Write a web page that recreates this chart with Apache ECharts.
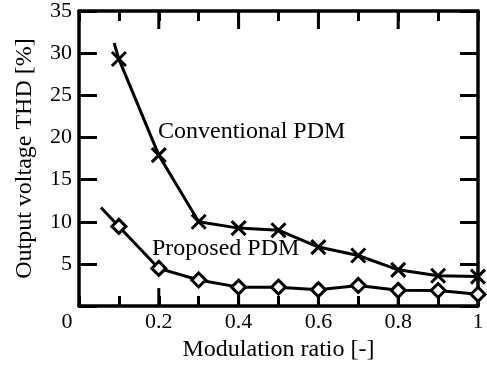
<!DOCTYPE html>
<html>
<head>
<meta charset="utf-8">
<script src="https://cdn.jsdelivr.net/npm/echarts@6/dist/echarts.min.js"></script>
<style>
html,body{margin:0;padding:0;background:#fff;}
#c{width:487px;height:367px;}
</style>
</head>
<body>
<div id="c"></div>
<script>
// Data
const xValues = [0.1, 0.2, 0.3, 0.4, 0.5, 0.6, 0.7, 0.8, 0.9, 1.0];
const conventional = [29.3, 17.9, 10.0, 9.25, 9.0, 7.0, 6.0, 4.3, 3.6, 3.5];
const proposed = [9.45, 4.47, 3.1, 2.25, 2.25, 1.95, 2.45, 1.87, 1.85, 1.4];
const conventionalStart = [0.088, 31.2];
const proposedStart = [0.055, 11.7];
const majorXTicks = [0.2, 0.4, 0.6, 0.8];
const xAxisTitle = 'Modulation ratio [-]';
const yAxisTitle = 'Output voltage THD [%]';
const labelConventional = 'Conventional PDM';
const labelProposed = 'Proposed PDM';

const FONT = "'Liberation Serif', 'Times New Roman', serif";
const Y_MIN = 0, Y_MAX = 35;

function buildSeries(start, vals) {
  const d = [{ value: start, symbol: 'none' }];
  xValues.forEach((x, i) => d.push([x, vals[i]]));
  return d;
}

const chart = echarts.init(document.getElementById('c'), null, { renderer: 'canvas' });

const lineStyleAxis = { color: '#000', width: 3.5 };
const tickStyle = { color: '#000', width: 3 };

chart.setOption({
  animation: false,
  backgroundColor: '#fff',
  grid: { left: 79, right: 9, top: 11, bottom: 56, containLabel: false },
  xAxis: [
    {
      type: 'value', position: 'bottom', min: 0, max: 1, interval: 0.1,
      axisLine: { show: true, onZero: false, lineStyle: lineStyleAxis },
      axisTick: { show: true, inside: true, length: 10, lineStyle: tickStyle },
      splitLine: { show: false },
      axisLabel: {
        margin: 5, color: '#000', fontFamily: FONT, fontSize: 22, showMinLabel: true, showMaxLabel: true,
        formatter: function (v) {
          const k = Math.round(v * 10);
          if (k === 0) return '{z|0}';
          if (k % 2 === 1) return '';
          return String(k / 10);
        },
        rich: { z: { fontFamily: FONT, fontSize: 22, color: '#000', padding: [0, 24, 0, 0] } }
      },
      name: xAxisTitle, nameLocation: 'middle', nameGap: 27,
      nameTextStyle: { color: '#000', fontFamily: FONT, fontSize: 24 }
    },
    {
      type: 'value', position: 'top', min: 0, max: 1, interval: 0.1,
      axisLine: { show: true, onZero: false, lineStyle: lineStyleAxis },
      axisTick: { show: true, inside: true, length: 10, lineStyle: tickStyle },
      splitLine: { show: false },
      axisLabel: { show: false }
    }
  ],
  yAxis: [
    {
      type: 'value', position: 'left', min: Y_MIN, max: Y_MAX, interval: 5,
      axisLine: { show: true, onZero: false, lineStyle: lineStyleAxis },
      axisTick: { show: true, inside: true, length: 18, lineStyle: tickStyle },
      splitLine: { show: false },
      axisLabel: {
        margin: 7, color: '#000', fontFamily: FONT, fontSize: 22,
        formatter: function (v) { return v === 0 ? '' : String(v); }
      },
      name: yAxisTitle, nameLocation: 'middle', nameGap: 42, nameRotate: 90,
      nameTextStyle: { color: '#000', fontFamily: FONT, fontSize: 24 }
    },
    {
      type: 'value', position: 'right', min: Y_MIN, max: Y_MAX, interval: 5,
      axisLine: { show: true, onZero: false, lineStyle: lineStyleAxis },
      axisTick: { show: true, inside: true, length: 18, lineStyle: tickStyle },
      splitLine: { show: false },
      axisLabel: { show: false }
    }
  ],
  series: [
    {
      // long ticks at the labelled x positions, placed via the axis scale
      type: 'custom', xAxisIndex: 0, yAxisIndex: 0, silent: true, clip: false, z: 1,
      data: majorXTicks.map(function (x) { return [x, Y_MIN]; }),
      renderItem: function (params, api) {
        const x = api.value(0);
        const pb = api.coord([x, Y_MIN]);
        const pt = api.coord([x, Y_MAX]);
        const st = { stroke: '#000', lineWidth: 3 };
        return {
          type: 'group',
          children: [
            { type: 'line', shape: { x1: pb[0], y1: pb[1], x2: pb[0], y2: pb[1] - 18 }, style: st },
            { type: 'line', shape: { x1: pt[0], y1: pt[1], x2: pt[0], y2: pt[1] + 18 }, style: st }
          ]
        };
      }
    },
    {
      type: 'line', xAxisIndex: 0, yAxisIndex: 0,
      data: buildSeries(conventionalStart, conventional),
      symbol: 'path://M0,0L10,10M10,0L0,10',
      symbolSize: 14,
      showAllSymbol: true,
      lineStyle: { color: '#000', width: 3 },
      itemStyle: { color: 'none', borderColor: '#000', borderWidth: 3 },
      z: 3
    },
    {
      type: 'line', xAxisIndex: 0, yAxisIndex: 0,
      data: buildSeries(proposedStart, proposed),
      symbol: 'diamond',
      symbolSize: 14,
      showAllSymbol: true,
      lineStyle: { color: '#000', width: 3 },
      itemStyle: { color: '#fff', borderColor: '#000', borderWidth: 3 },
      z: 4
    }
  ],
  graphic: [
    { type: 'text', left: 158, top: 120, z: 10,
      style: { text: labelConventional, font: '24px ' + FONT, fill: '#000' } },
    { type: 'text', left: 152, top: 237, z: 10,
      style: { text: labelProposed, font: '24px ' + FONT, fill: '#000' } }
  ]
});
</script>
</body>
</html>
